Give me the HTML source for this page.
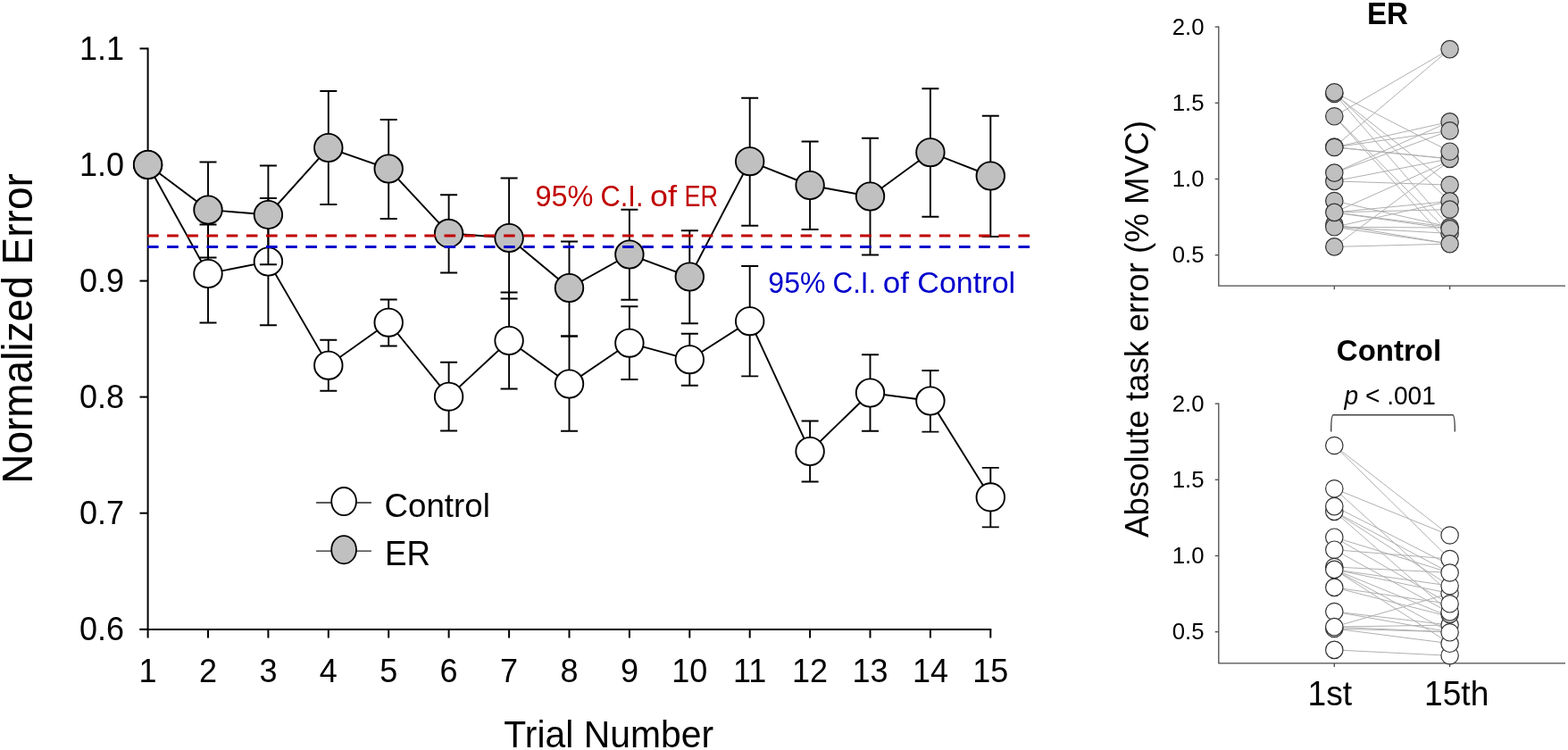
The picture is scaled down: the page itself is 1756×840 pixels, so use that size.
<!DOCTYPE html>
<html lang="en"><head><meta charset="utf-8"><title>Normalized Error by Trial Number</title>
<style>
html,body{margin:0;padding:0;background:#fff;}
body{width:1756px;height:840px;overflow:hidden;}
svg{display:block;}
text{font-family:"Liberation Sans",Arial,Helvetica,sans-serif;fill:#000;}
.tk{font-size:35.5px;}
.rt{font-size:25.5px;}
</style></head><body>
<svg width="1756" height="840" viewBox="0 0 1756 840">
<rect width="1756" height="840" fill="#fff"/>
<g stroke="#000" stroke-width="2" fill="none">
<path d="M165.6,53.4V705.9"/>
<path d="M156.5,704.9H1110.3"/>
<path d="M156.5,54.4H165.6"/>
<path d="M156.5,184.5H165.6"/>
<path d="M156.5,314.6H165.6"/>
<path d="M156.5,444.6H165.6"/>
<path d="M156.5,574.7H165.6"/>
<path d="M156.5,704.8H165.6"/>
<path d="M165.6,704.9V714.5"/>
<path d="M233.0,704.9V714.5"/>
<path d="M300.4,704.9V714.5"/>
<path d="M367.8,704.9V714.5"/>
<path d="M435.2,704.9V714.5"/>
<path d="M502.6,704.9V714.5"/>
<path d="M570.1,704.9V714.5"/>
<path d="M637.5,704.9V714.5"/>
<path d="M704.9,704.9V714.5"/>
<path d="M772.3,704.9V714.5"/>
<path d="M839.7,704.9V714.5"/>
<path d="M907.1,704.9V714.5"/>
<path d="M974.5,704.9V714.5"/>
<path d="M1041.9,704.9V714.5"/>
<path d="M1109.3,704.9V714.5"/>
</g>
<text transform="translate(139,67.0) scale(1,1.0)" font-size="36" text-anchor="end">1.1</text>
<text transform="translate(139,197.1) scale(1,1.0)" font-size="36" text-anchor="end">1.0</text>
<text transform="translate(139,327.2) scale(1,1.0)" font-size="36" text-anchor="end">0.9</text>
<text transform="translate(139,457.2) scale(1,1.0)" font-size="36" text-anchor="end">0.8</text>
<text transform="translate(139,587.3) scale(1,1.0)" font-size="36" text-anchor="end">0.7</text>
<text transform="translate(139,717.4) scale(1,1.0)" font-size="36" text-anchor="end">0.6</text>
<text transform="translate(165.6,764) scale(1,1.0)" font-size="36" text-anchor="middle">1</text>
<text transform="translate(233.0,764) scale(1,1.0)" font-size="36" text-anchor="middle">2</text>
<text transform="translate(300.4,764) scale(1,1.0)" font-size="36" text-anchor="middle">3</text>
<text transform="translate(367.8,764) scale(1,1.0)" font-size="36" text-anchor="middle">4</text>
<text transform="translate(435.2,764) scale(1,1.0)" font-size="36" text-anchor="middle">5</text>
<text transform="translate(502.6,764) scale(1,1.0)" font-size="36" text-anchor="middle">6</text>
<text transform="translate(570.1,764) scale(1,1.0)" font-size="36" text-anchor="middle">7</text>
<text transform="translate(637.5,764) scale(1,1.0)" font-size="36" text-anchor="middle">8</text>
<text transform="translate(704.9,764) scale(1,1.0)" font-size="36" text-anchor="middle">9</text>
<text transform="translate(772.3,764) scale(1,1.0)" font-size="36" text-anchor="middle">10</text>
<text transform="translate(839.7,764) scale(1,1.0)" font-size="36" text-anchor="middle">11</text>
<text transform="translate(907.1,764) scale(1,1.0)" font-size="36" text-anchor="middle">12</text>
<text transform="translate(974.5,764) scale(1,1.0)" font-size="36" text-anchor="middle">13</text>
<text transform="translate(1041.9,764) scale(1,1.0)" font-size="36" text-anchor="middle">14</text>
<text transform="translate(1109.3,764) scale(1,1.0)" font-size="36" text-anchor="middle">15</text>
<text transform="translate(564.3,836.6) scale(1,1.025)" font-size="40.9">Trial Number</text>
<text transform="translate(36.2,541.8) rotate(-90) scale(1,1.03)" font-size="46">Normalized Error</text>
<polyline points="165.6,184.5 233.0,306.5 300.4,293.0 367.8,409.2 435.2,361.2 502.6,444.2 570.1,381.5 637.5,430.0 704.9,384.2 772.3,402.7 839.7,359.7 907.1,505.5 974.5,440.0 1041.9,449.0 1109.3,556.9" fill="none" stroke="#000" stroke-width="1.9"/>
<path d="M233.0,251.5V361.5M223.5,251.5H242.5M223.5,361.5H242.5" stroke="#000" stroke-width="1.9" fill="none"/>
<path d="M300.4,222.0V364.2M290.9,222.0H309.9M290.9,364.2H309.9" stroke="#000" stroke-width="1.9" fill="none"/>
<path d="M367.8,380.7V437.7M358.3,380.7H377.3M358.3,437.7H377.3" stroke="#000" stroke-width="1.9" fill="none"/>
<path d="M435.2,335.5V387.5M425.7,335.5H444.7M425.7,387.5H444.7" stroke="#000" stroke-width="1.9" fill="none"/>
<path d="M502.6,405.7V482.5M493.1,405.7H512.1M493.1,482.5H512.1" stroke="#000" stroke-width="1.9" fill="none"/>
<path d="M570.1,327.5V435.5M560.6,327.5H579.6M560.6,435.5H579.6" stroke="#000" stroke-width="1.9" fill="none"/>
<path d="M637.5,376.5V482.7M628.0,376.5H647.0M628.0,482.7H647.0" stroke="#000" stroke-width="1.9" fill="none"/>
<path d="M704.9,343.2V425.0M695.4,343.2H714.4M695.4,425.0H714.4" stroke="#000" stroke-width="1.9" fill="none"/>
<path d="M772.3,373.7V431.7M762.8,373.7H781.8M762.8,431.7H781.8" stroke="#000" stroke-width="1.9" fill="none"/>
<path d="M839.7,298.0V421.4M830.2,298.0H849.2M830.2,421.4H849.2" stroke="#000" stroke-width="1.9" fill="none"/>
<path d="M907.1,471.5V539.5M897.6,471.5H916.6M897.6,539.5H916.6" stroke="#000" stroke-width="1.9" fill="none"/>
<path d="M974.5,397.3V482.8M965.0,397.3H984.0M965.0,482.8H984.0" stroke="#000" stroke-width="1.9" fill="none"/>
<path d="M1041.9,415.0V483.6M1032.4,415.0H1051.4M1032.4,483.6H1051.4" stroke="#000" stroke-width="1.9" fill="none"/>
<path d="M1109.3,523.9V590.4M1099.8,523.9H1118.8M1099.8,590.4H1118.8" stroke="#000" stroke-width="1.9" fill="none"/>
<ellipse cx="165.6" cy="184.5" rx="15.75" ry="15.6" fill="#fff" stroke="#000" stroke-width="1.9"/>
<ellipse cx="233.0" cy="306.5" rx="15.75" ry="15.6" fill="#fff" stroke="#000" stroke-width="1.9"/>
<ellipse cx="300.4" cy="293.0" rx="15.75" ry="15.6" fill="#fff" stroke="#000" stroke-width="1.9"/>
<ellipse cx="367.8" cy="409.2" rx="15.75" ry="15.6" fill="#fff" stroke="#000" stroke-width="1.9"/>
<ellipse cx="435.2" cy="361.2" rx="15.75" ry="15.6" fill="#fff" stroke="#000" stroke-width="1.9"/>
<ellipse cx="502.6" cy="444.2" rx="15.75" ry="15.6" fill="#fff" stroke="#000" stroke-width="1.9"/>
<ellipse cx="570.1" cy="381.5" rx="15.75" ry="15.6" fill="#fff" stroke="#000" stroke-width="1.9"/>
<ellipse cx="637.5" cy="430.0" rx="15.75" ry="15.6" fill="#fff" stroke="#000" stroke-width="1.9"/>
<ellipse cx="704.9" cy="384.2" rx="15.75" ry="15.6" fill="#fff" stroke="#000" stroke-width="1.9"/>
<ellipse cx="772.3" cy="402.7" rx="15.75" ry="15.6" fill="#fff" stroke="#000" stroke-width="1.9"/>
<ellipse cx="839.7" cy="359.7" rx="15.75" ry="15.6" fill="#fff" stroke="#000" stroke-width="1.9"/>
<ellipse cx="907.1" cy="505.5" rx="15.75" ry="15.6" fill="#fff" stroke="#000" stroke-width="1.9"/>
<ellipse cx="974.5" cy="440.0" rx="15.75" ry="15.6" fill="#fff" stroke="#000" stroke-width="1.9"/>
<ellipse cx="1041.9" cy="449.0" rx="15.75" ry="15.6" fill="#fff" stroke="#000" stroke-width="1.9"/>
<ellipse cx="1109.3" cy="556.9" rx="15.75" ry="15.6" fill="#fff" stroke="#000" stroke-width="1.9"/>
<polyline points="165.6,184.5 233.0,235.0 300.4,240.5 367.8,165.5 435.2,189.0 502.6,261.4 570.1,266.5 637.5,322.5 704.9,285.0 772.3,310.0 839.7,180.7 907.1,207.5 974.5,220.0 1041.9,170.7 1109.3,197.0" fill="none" stroke="#000" stroke-width="1.9"/>
<path d="M233.0,181.5V288.5M223.5,181.5H242.5M223.5,288.5H242.5" stroke="#000" stroke-width="1.9" fill="none"/>
<path d="M300.4,185.5V296.2M290.9,185.5H309.9M290.9,296.2H309.9" stroke="#000" stroke-width="1.9" fill="none"/>
<path d="M367.8,102.0V229.0M358.3,102.0H377.3M358.3,229.0H377.3" stroke="#000" stroke-width="1.9" fill="none"/>
<path d="M435.2,134.0V245.0M425.7,134.0H444.7M425.7,245.0H444.7" stroke="#000" stroke-width="1.9" fill="none"/>
<path d="M502.6,218.2V305.5M493.1,218.2H512.1M493.1,305.5H512.1" stroke="#000" stroke-width="1.9" fill="none"/>
<path d="M570.1,199.5V334.5M560.6,199.5H579.6M560.6,334.5H579.6" stroke="#000" stroke-width="1.9" fill="none"/>
<path d="M637.5,270.5V376.5M628.0,270.5H647.0M628.0,376.5H647.0" stroke="#000" stroke-width="1.9" fill="none"/>
<path d="M704.9,234.7V335.7M695.4,234.7H714.4M695.4,335.7H714.4" stroke="#000" stroke-width="1.9" fill="none"/>
<path d="M772.3,258.2V362.2M762.8,258.2H781.8M762.8,362.2H781.8" stroke="#000" stroke-width="1.9" fill="none"/>
<path d="M839.7,109.7V252.7M830.2,109.7H849.2M830.2,252.7H849.2" stroke="#000" stroke-width="1.9" fill="none"/>
<path d="M907.1,158.5V257.0M897.6,158.5H916.6M897.6,257.0H916.6" stroke="#000" stroke-width="1.9" fill="none"/>
<path d="M974.5,154.7V285.5M965.0,154.7H984.0M965.0,285.5H984.0" stroke="#000" stroke-width="1.9" fill="none"/>
<path d="M1041.9,99.2V242.7M1032.4,99.2H1051.4M1032.4,242.7H1051.4" stroke="#000" stroke-width="1.9" fill="none"/>
<path d="M1109.3,129.7V265.0M1099.8,129.7H1118.8M1099.8,265.0H1118.8" stroke="#000" stroke-width="1.9" fill="none"/>
<ellipse cx="165.6" cy="184.5" rx="15.75" ry="15.6" fill="#c0c0c0" stroke="#000" stroke-width="1.9"/>
<ellipse cx="233.0" cy="235.0" rx="15.75" ry="15.6" fill="#c0c0c0" stroke="#000" stroke-width="1.9"/>
<ellipse cx="300.4" cy="240.5" rx="15.75" ry="15.6" fill="#c0c0c0" stroke="#000" stroke-width="1.9"/>
<ellipse cx="367.8" cy="165.5" rx="15.75" ry="15.6" fill="#c0c0c0" stroke="#000" stroke-width="1.9"/>
<ellipse cx="435.2" cy="189.0" rx="15.75" ry="15.6" fill="#c0c0c0" stroke="#000" stroke-width="1.9"/>
<ellipse cx="502.6" cy="261.4" rx="15.75" ry="15.6" fill="#c0c0c0" stroke="#000" stroke-width="1.9"/>
<ellipse cx="570.1" cy="266.5" rx="15.75" ry="15.6" fill="#c0c0c0" stroke="#000" stroke-width="1.9"/>
<ellipse cx="637.5" cy="322.5" rx="15.75" ry="15.6" fill="#c0c0c0" stroke="#000" stroke-width="1.9"/>
<ellipse cx="704.9" cy="285.0" rx="15.75" ry="15.6" fill="#c0c0c0" stroke="#000" stroke-width="1.9"/>
<ellipse cx="772.3" cy="310.0" rx="15.75" ry="15.6" fill="#c0c0c0" stroke="#000" stroke-width="1.9"/>
<ellipse cx="839.7" cy="180.7" rx="15.75" ry="15.6" fill="#c0c0c0" stroke="#000" stroke-width="1.9"/>
<ellipse cx="907.1" cy="207.5" rx="15.75" ry="15.6" fill="#c0c0c0" stroke="#000" stroke-width="1.9"/>
<ellipse cx="974.5" cy="220.0" rx="15.75" ry="15.6" fill="#c0c0c0" stroke="#000" stroke-width="1.9"/>
<ellipse cx="1041.9" cy="170.7" rx="15.75" ry="15.6" fill="#c0c0c0" stroke="#000" stroke-width="1.9"/>
<ellipse cx="1109.3" cy="197.0" rx="15.75" ry="15.6" fill="#c0c0c0" stroke="#000" stroke-width="1.9"/>
<path d="M165,264H1154.6" stroke="#c00000" stroke-width="3" stroke-dasharray="12.6 9.57" fill="none"/>
<path d="M165,276.5H1154.6" stroke="#0000cc" stroke-width="3" stroke-dasharray="12.6 9.57" fill="none"/>
<text font-size="33" style="fill:#c00000"><tspan x="599.5" y="231.3" textLength="65.0" lengthAdjust="spacingAndGlyphs">95%</tspan><tspan x="672.5" y="231.3" textLength="48.0" lengthAdjust="spacingAndGlyphs">C.I.</tspan><tspan x="728" y="231.3" textLength="30" lengthAdjust="spacingAndGlyphs">of</tspan><tspan x="766.5" y="231.3" textLength="37.5" lengthAdjust="spacingAndGlyphs">ER</tspan></text>
<text font-size="33" style="fill:#0000cc"><tspan x="860.3" y="327.5" textLength="64.2" lengthAdjust="spacingAndGlyphs">95%</tspan><tspan x="932.5" y="327.5" textLength="48.8" lengthAdjust="spacingAndGlyphs">C.I.</tspan><tspan x="988.8" y="327.5" textLength="29.2" lengthAdjust="spacingAndGlyphs">of</tspan><tspan x="1027.3" y="327.5" textLength="109.9" lengthAdjust="spacingAndGlyphs">Control</tspan></text>
<path d="M354.1,563H415.9M354.1,617.2H415.9" stroke="#222" stroke-width="1.3"/>
<ellipse cx="385.1" cy="561.6" rx="13.9" ry="15.6" fill="#fff" stroke="#000" stroke-width="1.8"/>
<ellipse cx="385.1" cy="615.7" rx="13.9" ry="15.6" fill="#c0c0c0" stroke="#000" stroke-width="1.8"/>
<text transform="translate(430.5,579.4) scale(1,1.03)" font-size="36.7">Control</text>
<text transform="translate(431,633.4) scale(1,1.04)" font-size="36.7">ER</text>
<g stroke="#4a4a4a" stroke-width="1.3" fill="none">
<path d="M1364.8,29.4V320.2H1753"/>
<path d="M1360.7,30.1H1364.8"/>
<path d="M1360.7,115.3H1364.8"/>
<path d="M1360.7,200.5H1364.8"/>
<path d="M1360.7,285.7H1364.8"/>
<path d="M1494.3,320.2v4M1623.6,320.2v4"/>
</g>
<text transform="translate(1348.6,38.8) scale(1,1.017)" font-size="25.8" text-anchor="end">2.0</text>
<text transform="translate(1348.6,124.0) scale(1,1.017)" font-size="25.8" text-anchor="end">1.5</text>
<text transform="translate(1348.6,209.2) scale(1,1.017)" font-size="25.8" text-anchor="end">1.0</text>
<text transform="translate(1348.6,294.4) scale(1,1.017)" font-size="25.8" text-anchor="end">0.5</text>
<g stroke="#b0b0b0" stroke-width="1" fill="none">
<path d="M1494.3,103.4L1623.6,169.7"/>
<path d="M1494.3,105.0L1623.6,207.1"/>
<path d="M1494.3,104.0L1623.6,225.4"/>
<path d="M1494.3,105.0L1623.6,254.3"/>
<path d="M1494.3,130.3L1623.6,55.1"/>
<path d="M1494.3,164.6L1623.6,55.1"/>
<path d="M1494.3,130.3L1623.6,261.4"/>
<path d="M1494.3,130.3L1623.6,273.1"/>
<path d="M1494.3,165.0L1623.6,136.4"/>
<path d="M1494.3,165.0L1623.6,146.4"/>
<path d="M1494.3,165.0L1623.6,177.9"/>
<path d="M1494.3,164.6L1623.6,177.9"/>
<path d="M1494.3,193.6L1623.6,136.4"/>
<path d="M1494.3,193.6L1623.6,146.4"/>
<path d="M1494.3,202.9L1623.6,177.9"/>
<path d="M1494.3,202.9L1623.6,207.1"/>
<path d="M1494.3,225.0L1623.6,254.3"/>
<path d="M1494.3,237.9L1623.6,180.0"/>
<path d="M1494.3,237.9L1623.6,225.4"/>
<path d="M1494.3,237.9L1623.6,234.6"/>
<path d="M1494.3,237.9L1623.6,254.3"/>
<path d="M1494.3,237.9L1623.6,256.4"/>
<path d="M1494.3,254.3L1623.6,225.4"/>
<path d="M1494.3,254.3L1623.6,255.0"/>
<path d="M1494.3,254.3L1623.6,261.4"/>
<path d="M1494.3,254.3L1623.6,273.1"/>
<path d="M1494.3,251.4L1623.6,273.1"/>
<path d="M1494.3,276.4L1623.6,273.1"/>
<path d="M1494.3,276.4L1623.6,180.0"/>
</g>
<g fill="#c0c0c0" stroke="#333" stroke-width="1.2">
<circle cx="1494.3" cy="105.0" r="9.7"/>
<circle cx="1494.3" cy="103.4" r="9.7"/>
<circle cx="1494.3" cy="130.3" r="9.7"/>
<circle cx="1494.3" cy="164.6" r="9.7"/>
<circle cx="1494.3" cy="165.0" r="9.7"/>
<circle cx="1494.3" cy="202.9" r="9.7"/>
<circle cx="1494.3" cy="193.6" r="9.7"/>
<circle cx="1494.3" cy="225.0" r="9.7"/>
<circle cx="1494.3" cy="276.4" r="9.7"/>
<circle cx="1494.3" cy="251.4" r="9.7"/>
<circle cx="1494.3" cy="254.3" r="9.7"/>
<circle cx="1494.3" cy="237.9" r="9.7"/>
<circle cx="1623.6" cy="55.1" r="9.7"/>
<circle cx="1623.6" cy="136.4" r="9.7"/>
<circle cx="1623.6" cy="146.4" r="9.7"/>
<circle cx="1623.6" cy="177.9" r="9.7"/>
<circle cx="1623.6" cy="169.7" r="9.7"/>
<circle cx="1623.6" cy="207.1" r="9.7"/>
<circle cx="1623.6" cy="225.4" r="9.7"/>
<circle cx="1623.6" cy="234.6" r="9.7"/>
<circle cx="1623.6" cy="261.4" r="9.7"/>
<circle cx="1623.6" cy="254.3" r="9.7"/>
<circle cx="1623.6" cy="256.4" r="9.7"/>
<circle cx="1623.6" cy="273.1" r="9.7"/>
</g>
<g stroke="#4a4a4a" stroke-width="1.3" fill="none">
<path d="M1364.8,451.4V742.9H1753"/>
<path d="M1360.7,452.1H1364.8"/>
<path d="M1360.7,537.3H1364.8"/>
<path d="M1360.7,622.5H1364.8"/>
<path d="M1360.7,707.7H1364.8"/>
<path d="M1494.3,742.9v4M1623.6,742.9v4"/>
</g>
<text transform="translate(1348.6,460.8) scale(1,1.017)" font-size="25.8" text-anchor="end">2.0</text>
<text transform="translate(1348.6,546.0) scale(1,1.017)" font-size="25.8" text-anchor="end">1.5</text>
<text transform="translate(1348.6,631.2) scale(1,1.017)" font-size="25.8" text-anchor="end">1.0</text>
<text transform="translate(1348.6,716.4) scale(1,1.017)" font-size="25.8" text-anchor="end">0.5</text>
<g stroke="#b0b0b0" stroke-width="1" fill="none">
<path d="M1494.3,499.0L1623.6,599.6"/>
<path d="M1494.3,499.0L1623.6,626.0"/>
<path d="M1494.3,547.3L1623.6,599.6"/>
<path d="M1494.3,547.3L1623.6,664.6"/>
<path d="M1494.3,567.1L1623.6,632.7"/>
<path d="M1494.3,572.9L1623.6,641.4"/>
<path d="M1494.3,572.9L1623.6,656.1"/>
<path d="M1494.3,572.9L1623.6,685.7"/>
<path d="M1494.3,601.7L1623.6,641.4"/>
<path d="M1494.3,601.7L1623.6,676.4"/>
<path d="M1494.3,615.7L1623.6,626.0"/>
<path d="M1494.3,615.7L1623.6,686.4"/>
<path d="M1494.3,635.0L1623.6,641.4"/>
<path d="M1494.3,637.9L1623.6,656.1"/>
<path d="M1494.3,637.9L1623.6,664.6"/>
<path d="M1494.3,637.9L1623.6,690.7"/>
<path d="M1494.3,637.9L1623.6,720.7"/>
<path d="M1494.3,637.9L1623.6,707.9"/>
<path d="M1494.3,657.9L1623.6,676.4"/>
<path d="M1494.3,657.9L1623.6,690.7"/>
<path d="M1494.3,685.0L1623.6,700.0"/>
<path d="M1494.3,685.0L1623.6,707.9"/>
<path d="M1494.3,702.1L1623.6,664.6"/>
<path d="M1494.3,702.1L1623.6,700.0"/>
<path d="M1494.3,702.1L1623.6,707.9"/>
<path d="M1494.3,704.0L1623.6,720.7"/>
<path d="M1494.3,704.0L1623.6,707.9"/>
<path d="M1494.3,727.9L1623.6,734.3"/>
</g>
<g fill="#fff" stroke="#333" stroke-width="1.2">
<circle cx="1494.3" cy="499.0" r="9.7"/>
<circle cx="1494.3" cy="547.3" r="9.7"/>
<circle cx="1494.3" cy="572.9" r="9.7"/>
<circle cx="1494.3" cy="567.1" r="9.7"/>
<circle cx="1494.3" cy="601.7" r="9.7"/>
<circle cx="1494.3" cy="615.7" r="9.7"/>
<circle cx="1494.3" cy="635.0" r="9.7"/>
<circle cx="1494.3" cy="637.9" r="9.7"/>
<circle cx="1494.3" cy="657.9" r="9.7"/>
<circle cx="1494.3" cy="685.0" r="9.7"/>
<circle cx="1494.3" cy="704.0" r="9.7"/>
<circle cx="1494.3" cy="702.1" r="9.7"/>
<circle cx="1494.3" cy="727.9" r="9.7"/>
<circle cx="1623.6" cy="734.2" r="9.7"/>
<circle cx="1623.6" cy="720.8" r="9.7"/>
<circle cx="1623.6" cy="700.0" r="9.7"/>
<circle cx="1623.6" cy="687.9" r="9.7"/>
<circle cx="1623.6" cy="685.4" r="9.7"/>
<circle cx="1623.6" cy="708.3" r="9.7"/>
<circle cx="1623.6" cy="664.4" r="9.7"/>
<circle cx="1623.6" cy="656.2" r="9.7"/>
<circle cx="1623.6" cy="626.0" r="9.7"/>
<circle cx="1623.6" cy="641.5" r="9.7"/>
<circle cx="1623.6" cy="676.3" r="9.7"/>
<circle cx="1623.6" cy="599.5" r="9.7"/>
</g>
<text transform="translate(1554,26.6) scale(1,1.04)" font-size="33" text-anchor="middle" font-weight="bold">ER</text>
<text transform="translate(1555.5,403.9) scale(1,1.03)" font-size="33" text-anchor="middle" font-weight="bold">Control</text>
<text transform="translate(1505.5,452.9) scale(1,1.02)" font-size="28.1"><tspan font-style="italic">p</tspan> &lt; .001</text>
<path d="M1490.7,483.6C1490.7,470 1491.6,464.7 1493.2,464.7L1626.8,464.7C1628.4,464.7 1629.3,470 1629.3,483.6" fill="none" stroke="#444" stroke-width="1.4"/>
<text transform="translate(1464.5,789.7) scale(1,1.02)" font-size="37.2">1st</text>
<text transform="translate(1595,789.7) scale(1,1.02)" font-size="37.2">15th</text>
<text transform="translate(1285.5,602.1) rotate(-90) scale(1,1.03)" font-size="36.7">Absolute task error (% MVC)</text>
</svg></body></html>
